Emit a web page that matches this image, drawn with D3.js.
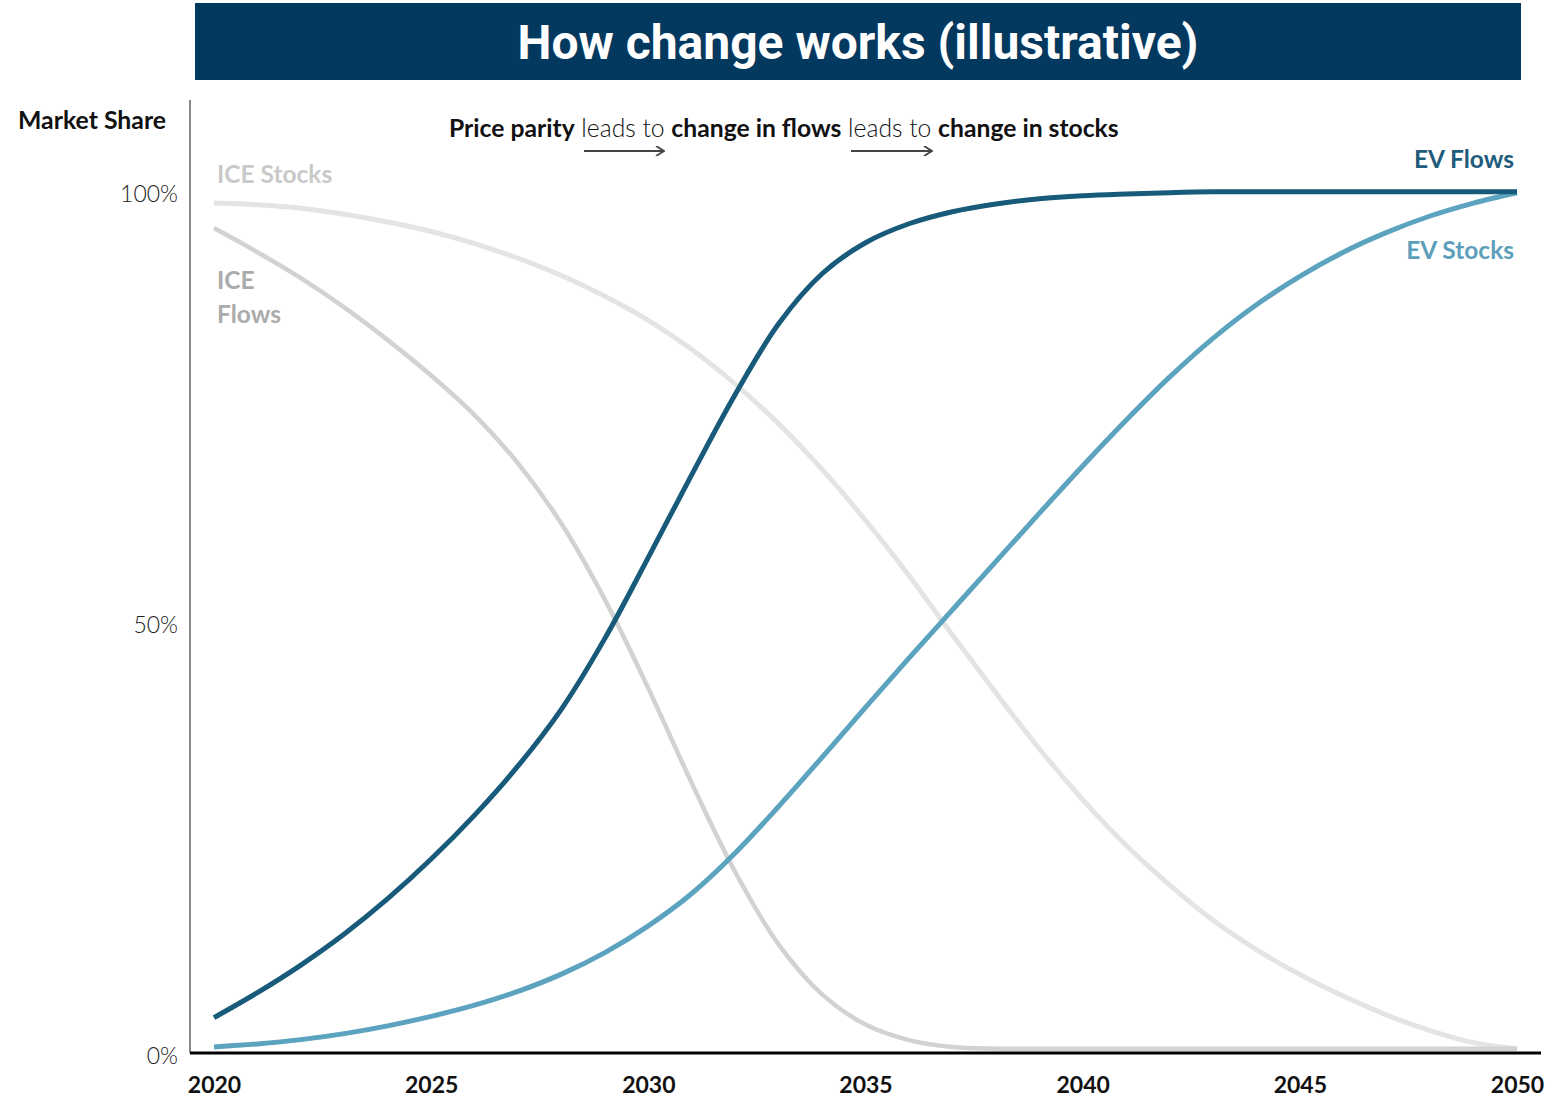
<!DOCTYPE html>
<html>
<head>
<meta charset="utf-8">
<script src="https://cdn.jsdelivr.net/npm/d3@7"></script>
<style>
  html, body { margin: 0; padding: 0; background: #ffffff; }
  svg { display: block; }
</style>
</head>
<body>
<svg id="chart" width="1567" height="1097"></svg>
<script>
// ---------- DATA ----------
const years = d3.range(2020, 2051);
const evFlows = [4.1, 7.0, 10.2, 13.8, 17.9, 22.5, 27.6, 33.3, 39.9, 48.1,
                 57.5, 67.1, 76.4, 84.6, 90.4, 94.0, 96.2, 97.6, 98.5, 99.1,
                 99.45, 99.65, 99.8, 99.9, 99.9, 99.9, 99.9, 99.9, 99.9, 99.9, 99.9];
const evStocks = [0.7, 1.05, 1.55, 2.25, 3.15, 4.25, 5.55, 7.15, 9.15, 11.65,
                  14.75, 18.5, 23.2, 28.6, 34.3, 40.1, 45.8, 51.4, 57.0, 62.6,
                  68.1, 73.4, 78.4, 82.9, 86.8, 90.1, 92.9, 95.2, 97.1, 98.6, 99.8];
const iceStocks = [98.6, 98.4, 98.0, 97.3, 96.4, 95.3, 93.9, 92.2, 90.2, 87.8,
                   85.0, 81.6, 77.6, 73.0, 67.7, 61.8, 55.4, 48.5, 41.8, 35.3,
                   29.4, 24.1, 19.5, 15.4, 12.0, 9.1, 6.6, 4.4, 2.6, 1.2, 0.5];
const iceFlows = [95.7, 92.9, 89.9, 86.5, 82.7, 78.6, 74.0, 68.4, 61.4, 52.6,
                  42.3, 31.3, 21.0, 12.6, 6.8, 3.3, 1.5, 0.7, 0.5, 0.5,
                  0.5, 0.5, 0.5, 0.5, 0.5, 0.5, 0.5, 0.5, 0.5, 0.5, 0.5];
const xTicks = [2020, 2025, 2030, 2035, 2040, 2045, 2050];
const yTicks = [0, 50, 100];
const titleText = "How change works (illustrative)";
const yAxisTitle = "Market Share";

// ---------- LAYOUT ----------
const svg = d3.select("#chart");
const x = d3.scaleLinear().domain([2020, 2050]).range([214, 1517]);
const y = d3.scaleLinear().domain([0, 100]).range([1053, 191]);
const FONT = "Lato, 'Source Sans Pro', 'Open Sans', sans-serif";

// Title banner
svg.append("rect").attr("x", 195).attr("y", 3).attr("width", 1326).attr("height", 77)
  .attr("fill", "#03385F");
svg.append("text").attr("x", 858).attr("y", 59)
  .attr("text-anchor", "middle")
  .attr("font-family", "Roboto, sans-serif").attr("font-weight", 700)
  .attr("font-size", 48).attr("fill", "#ffffff").text(titleText);

// Y axis line
svg.append("line").attr("x1", 190).attr("x2", 190).attr("y1", 100).attr("y2", 1053)
  .attr("stroke", "#6a6a6a").attr("stroke-width", 1.6);

// Y axis labels
const yAxis = d3.axisLeft(y).tickValues(yTicks).tickSize(0).tickPadding(0)
  .tickFormat(d => d + "%");
const gy = svg.append("g").attr("transform", "translate(178,2)").call(yAxis);
gy.select(".domain").remove();
gy.selectAll("text").attr("font-family", FONT).attr("font-weight", 300)
  .attr("font-size", 23).attr("fill", "#222").attr("dy", "0.35em");

svg.append("text").attr("x", 18).attr("y", 129)
  .attr("font-family", FONT).attr("font-weight", 700)
  .attr("font-size", 24.8).attr("fill", "#111").text(yAxisTitle);

// X axis labels
const xAxis = d3.axisBottom(x).tickValues(xTicks).tickSize(0).tickPadding(0)
  .tickFormat(d3.format("d"));
const gx = svg.append("g").attr("transform", "translate(0,1077)").call(xAxis);
gx.select(".domain").remove();
gx.selectAll("text").attr("font-family", FONT).attr("font-weight", 700)
  .attr("font-size", 23).attr("fill", "#111").attr("dy", "0.71em");

// Lines
const line = d3.line().x((d, i) => x(years[i])).y(d => y(d))
  .curve(d3.curveCatmullRom.alpha(0.5));
const series = [
  { v: iceStocks, color: "#E4E4E4", w: 5 },
  { v: iceFlows, color: "#D2D2D2", w: 4.5 },
  { v: evStocks, color: "#5BA3BF", w: 5 },
  { v: evFlows, color: "#175A79", w: 5 }
];
svg.append("g").selectAll("path").data(series).join("path")
  .attr("d", d => line(d.v))
  .attr("fill", "none")
  .attr("stroke", d => d.color)
  .attr("stroke-width", d => d.w)
  .attr("stroke-linecap", "butt");

// X axis line (on top)
svg.append("line").attr("x1", 190).attr("x2", 1541).attr("y1", 1053).attr("y2", 1053)
  .attr("stroke", "#000").attr("stroke-width", 3);

// Series labels
const lab = (t, xx, yy, col, anchor) => svg.append("text").attr("x", xx).attr("y", yy)
  .attr("text-anchor", anchor || "start")
  .attr("font-family", FONT).attr("font-weight", 700)
  .attr("font-size", 24.5).attr("fill", col).text(t);
lab("ICE Stocks", 217, 183, "#C9C9C9");
lab("ICE", 217, 289, "#ABABAB");
lab("Flows", 217, 323, "#ABABAB");
lab("EV Flows", 1514, 168, "#1F5C7C", "end");
lab("EV Stocks", 1514, 259, "#5C9FBA", "end");

// Annotation
const ann = svg.append("text").attr("x", 449).attr("y", 137)
  .attr("font-family", FONT).attr("font-size", 24.7).attr("fill", "#111");
[["Price parity", 700], [" leads to ", 300], ["change in flows", 700], [" leads to ", 300], ["change in stocks", 700]]
  .forEach(([t, w]) => ann.append("tspan").attr("font-weight", w).text(t));

// Arrows
const defs = svg.append("defs");
defs.append("marker").attr("id", "arr").attr("viewBox", "0 0 10 10")
  .attr("refX", 9).attr("refY", 5).attr("markerWidth", 10).attr("markerHeight", 10)
  .attr("markerUnits", "userSpaceOnUse").attr("orient", "auto")
  .append("path").attr("d", "M1,0 L9,5 L1,10").attr("fill", "none")
  .attr("stroke", "#444").attr("stroke-width", 1.8);
[[584, 664], [851, 932]].forEach(([a, b]) => {
  svg.append("line").attr("x1", a).attr("x2", b).attr("y1", 151).attr("y2", 151)
    .attr("stroke", "#444").attr("stroke-width", 1.8).attr("marker-end", "url(#arr)");
});
</script>
</body>
</html>
